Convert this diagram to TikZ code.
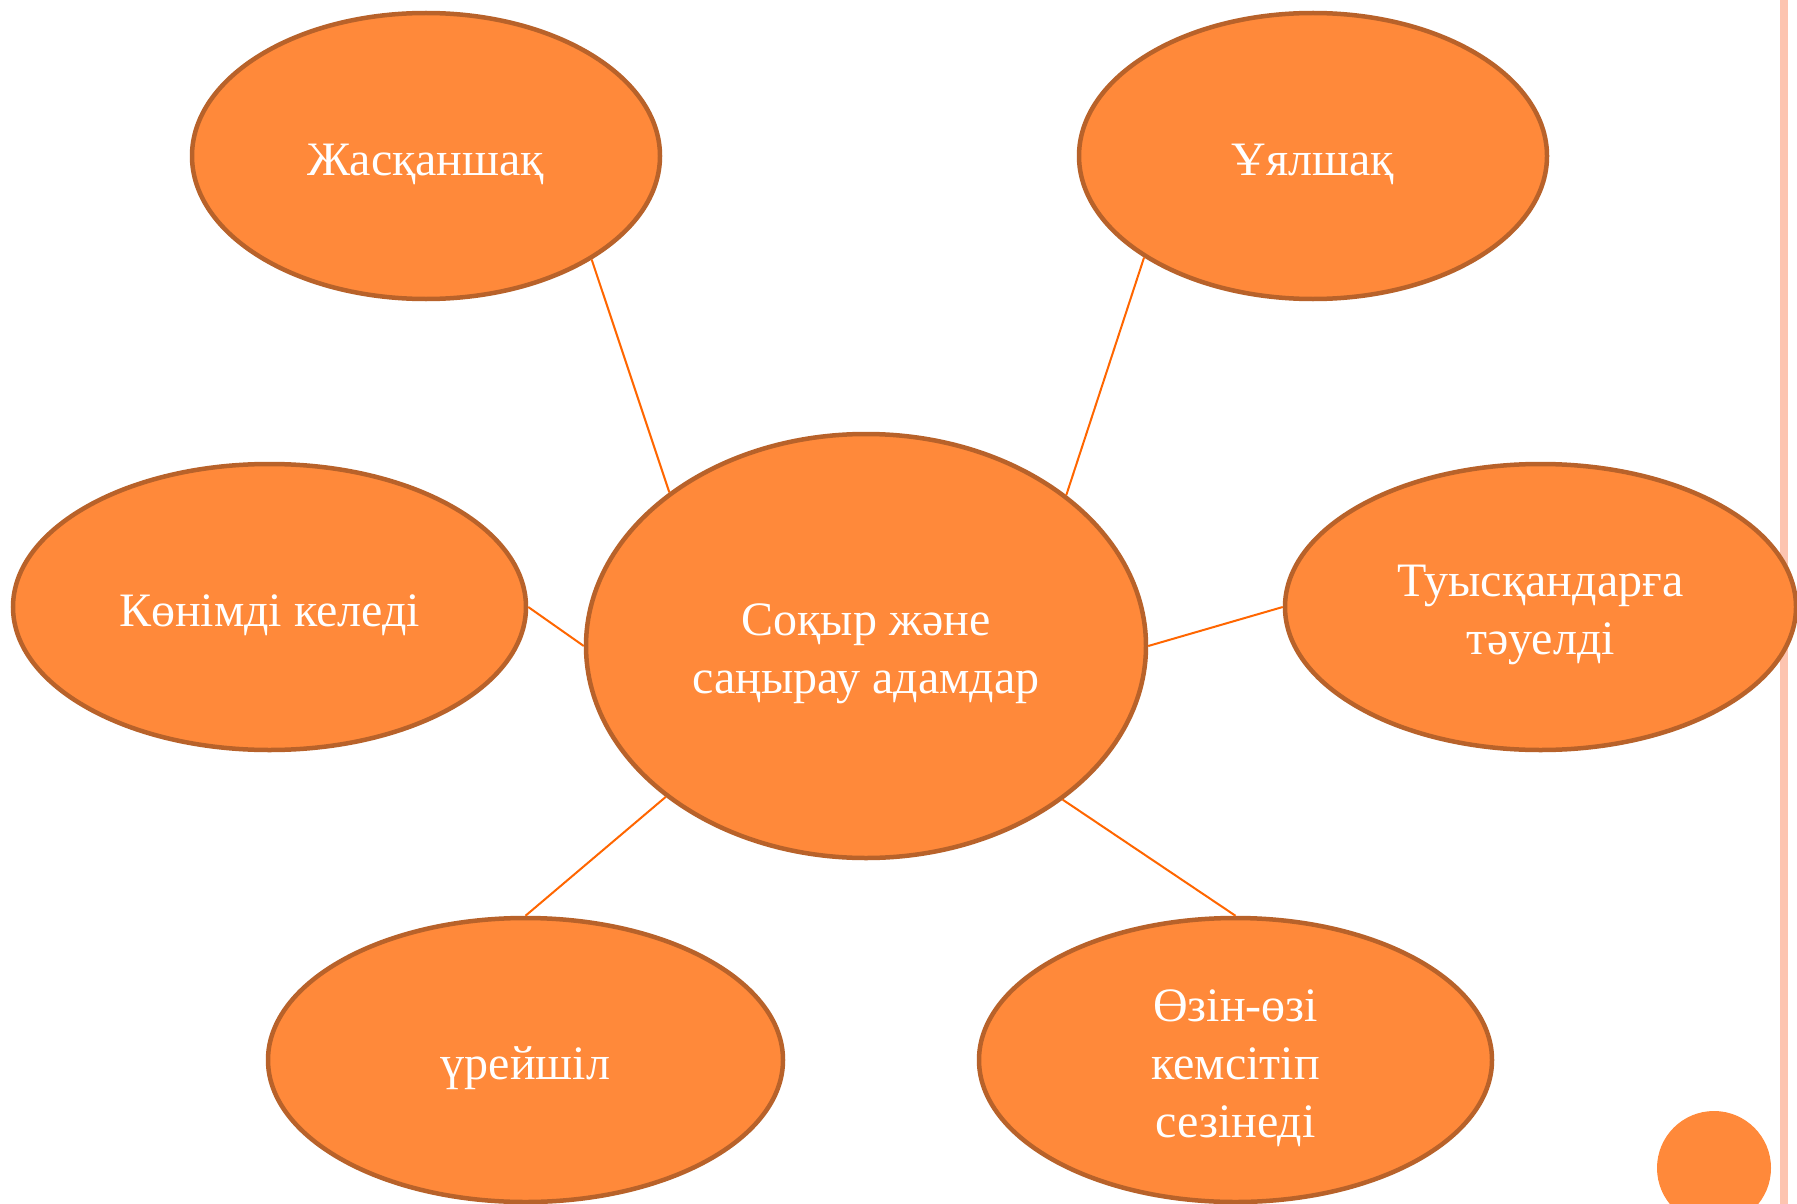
\documentclass[tikz,border=0pt]{standalone}
\usepackage{fontspec}
\setmainfont{Liberation Serif}
\usetikzlibrary{shapes.geometric}
\definecolor{ofill}{RGB}{255,137,58}
\definecolor{oborder}{RGB}{184,98,42}
\definecolor{oline}{RGB}{255,102,0}
\definecolor{pinkbar}{RGB}{253,196,176}
\begin{document}
\begin{tikzpicture}[x=1pt,y=-1pt,
  bub/.style={ellipse, draw=oborder, line width=4.5pt, fill=ofill, inner sep=0pt},
  txt/.style={text=white, inner sep=0pt, align=center, font=\fontsize{48}{58}\selectfont, yshift=-8pt},
  conn/.style={draw=oline, line width=2pt}]
\useasboundingbox (0,0) rectangle (1797,1204);
\clip (0,0) rectangle (1797,1204);
\fill[white] (0,0) rectangle (1797,1204);
\fill[pinkbar] (1780,0) rectangle (1788,1204);
\fill[ofill] (1714,1168) circle[radius=57];
\node[bub, minimum width=560, minimum height=424] (c) at (866,646) {};
\node[bub, minimum width=468, minimum height=286] (a) at (426,156) {};
\node[bub, minimum width=468, minimum height=286] (b) at (1313,156) {};
\node[bub, minimum width=513, minimum height=286] (k) at (269.5,607) {};
\node[bub, minimum width=511, minimum height=286] (t) at (1540.5,607) {};
\node[bub, minimum width=515, minimum height=284] (u) at (525.5,1060) {};
\node[bub, minimum width=513, minimum height=284] (o) at (1235.5,1060) {};
\node[txt] (c-t) at (c.center) {Соқыр және\\саңырау адамдар};
\node[txt] (a-t) at (a.center) {Жасқаншақ};
\node[txt] (b-t) at (b.center) {Ұялшақ};
\node[txt] (k-t) at (k.center) {Көнімді келеді};
\node[txt] (t-t) at (t.center) {Туысқандарға\\тәуелді};
\node[txt] (u-t) at (u.center) {үрейшіл};
\node[txt] (o-t) at (o.center) {Өзін-өзі\\кемсітіп\\сезінеді};
\draw[conn] (a.328.5) -- (c.142.8);
\draw[conn] (b.211.5) -- (c.37.2);
\draw[conn] (k.east) -- (c.west);
\draw[conn] (t.west) -- (c.east);
\draw[conn] (u.north) -- (c.217.2);
\draw[conn] (o.north) -- (c.322.8);
\end{tikzpicture}
\end{document}
